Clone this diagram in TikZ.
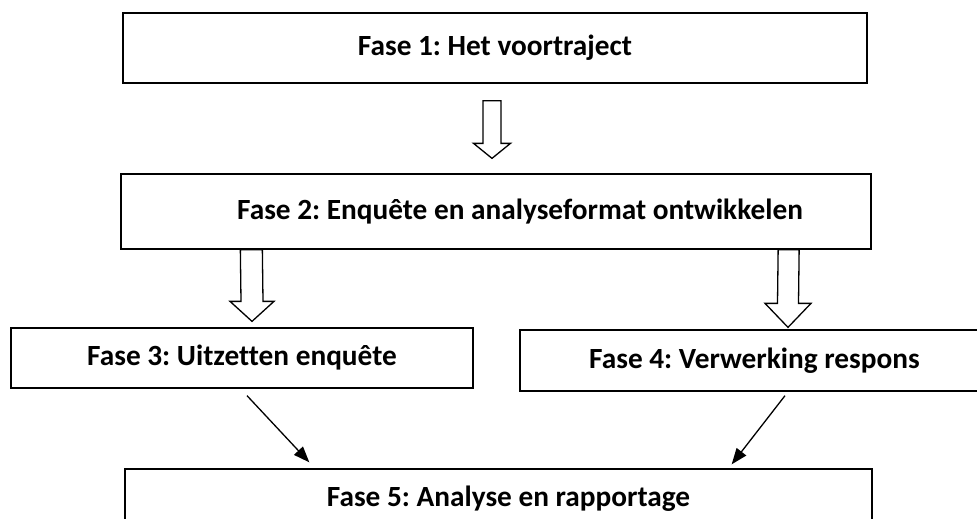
\documentclass[tikz,border=0pt]{standalone}
\usepackage{fontspec}
\setmainfont{Carlito}[Ligatures=NoCommon]
\usetikzlibrary{calc}
\usetikzlibrary{arrows.meta}
\usetikzlibrary{positioning}
\tikzset{fase/.style={draw=black,line width=1.3pt,inner sep=0pt,font=\frenchspacing\bfseries\fontsize{29.3}{35}\selectfont}}
\tikzset{hollow/.style={draw=black,line width=1.3pt,fill=white,line join=miter}}
\tikzset{pijl/.style={draw=black,line width=1.3pt,-{Triangle[length=16pt,width=12pt]}}}
% block arrow: start, tip, half shaft, half head, head length
\newcommand{\blokpijl}[5]{
  \draw[hollow] ($(#1)+(-#3,0)$) -- ($(#2)+(-#3,-#5)$) -- ($(#2)+(-#4,-#5)$) -- (#2)
    -- ($(#2)+(#4,-#5)$) -- ($(#2)+(#3,-#5)$) -- ($(#1)+(#3,0)$) -- cycle;}
\begin{document}
\begin{tikzpicture}[x=1pt,y=-1pt]
\clip (0,0) rectangle (977,519);

\node[fase,minimum width=744pt,minimum height=70pt] (fase1) at (495,48) {Fase 1: Het voortraject};
\node[fase,minimum width=750pt,minimum height=75pt] (fase2) at (496,211.5) {\hspace*{48pt}Fase 2: Enquête en analyseformat ontwikkelen};
\node[fase,minimum width=462pt,minimum height=60pt] (fase3) at (242,358) {Fase 3: Uitzetten enquête};
\node[fase,minimum width=469pt,minimum height=61pt] (fase4) at (754.5,360.5) {Fase 4: Verwerking respons};
\node[fase,minimum width=747pt,minimum height=60pt] (fase5) at (498.5,499) {\hspace*{20pt}Fase 5: Analyse en rapportage};

\coordinate (b1) at ($(fase1.south)+(-3,17)$);
\coordinate (t1) at ($(fase2.north)+(-4,-15)$);
\coordinate (b2) at ($(fase2.south west)+(131,0)$);
\coordinate (t2) at ($(fase3.north)+(10,-6)$);
\coordinate (b3) at ($(fase2.south east)+(-83,0)$);
\coordinate (t3) at ($(fase4.north)+(33.5,-2)$);
\blokpijl{b1}{t1}{9}{18.5}{15}
\blokpijl{b2}{t2}{11}{22}{20}
\blokpijl{b3}{t3}{10.5}{23}{24}

\draw[pijl] ($(fase3.south)+(5,7)$) -- ($(fase5.north west)+(185,-6)$);
\draw[pijl] ($(fase4.south)+(30.5,4)$) -- ($(fase5.north east)+(-141,-4)$);
\end{tikzpicture}
\end{document}
